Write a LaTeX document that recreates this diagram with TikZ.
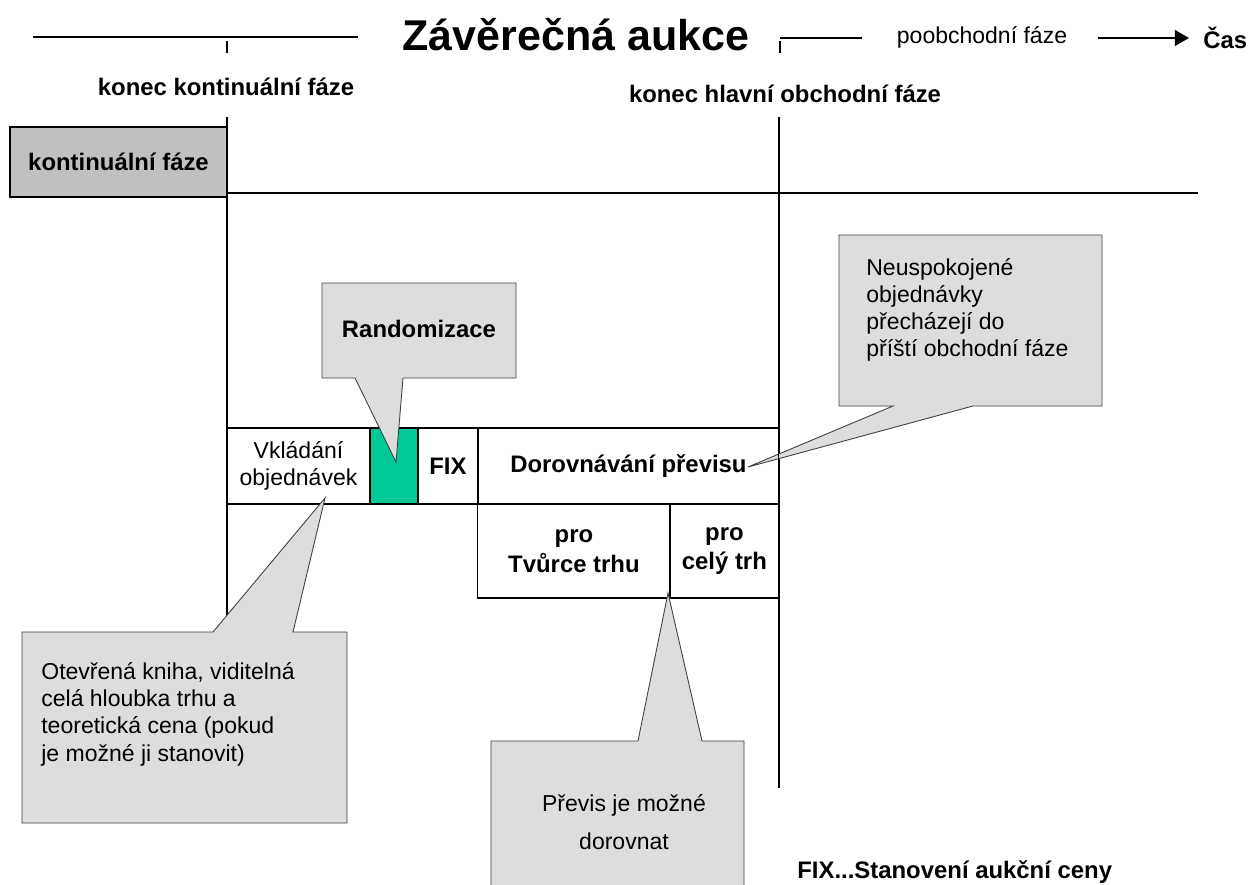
\documentclass[tikz,border=0pt]{standalone}
\usepackage{fontspec}
\setmainfont{Liberation Sans}
\usetikzlibrary{arrows.meta,positioning}
\definecolor{phasegray}{RGB}{192,192,192}
\definecolor{notegray}{RGB}{221,221,221}
\definecolor{randgreen}{RGB}{0,200,150}
\newcommand{\regtext}{\fontsize{13.1}{15.5}\selectfont}
\newcommand{\boldtext}{\fontsize{13.6}{17}\selectfont\bfseries}
\tikzset{
  cell/.style={rectangle, draw=black, line width=0.6pt, inner sep=0pt, outer sep=0pt, align=center, font=\boldtext, minimum height=1.52cm},
  lowcell/.style={cell, minimum height=1.88cm},
  bubble/.style={draw=black!75, fill=notegray, line width=0.5pt},
  note/.style={inner sep=0pt, align=left, font=\regtext},
  heading/.style={inner sep=0pt, font=\boldtext},
  axis/.style={line width=0.6pt},
  edge/.style={line width=1.3pt}
}

\begin{document}
\begin{tikzpicture}[x=0.02cm, y=-0.02cm]
    \useasboundingbox (0,0) rectangle (1254,885);
    \clip (0,0) rectangle (1254,885);

    % time axis
    \node[font=\fontsize{24.5}{28}\selectfont\bfseries, inner sep=0pt] (title) at (576,35) {Závěrečná aukce};
    \node[note] (post) at (982,37) {poobchodní fáze};
    \node[heading, anchor=west] (cas) at (1203,38) {Čas};
    \coordinate (ax0) at (33,37);
    \coordinate (ax1) at (358,37);
    \coordinate (ax2) at (780,38);
    \coordinate (ax3) at (862,38);
    \coordinate (ax4) at (1098,38);
    \coordinate (ax5) at (1189,38);
    \draw[axis] (ax0) -- (ax1);
    \draw[axis] (ax2) -- (ax3);
    \draw[axis, -{Triangle[length=8pt,width=9pt]}] (ax4) -- (ax5);
    \draw[axis] (227,41) -- (227,53);
    \draw[axis] (780,41) -- (780,53);

    % phase boundaries
    \node[heading] (endcont) at (226,87) {konec kontinuální fáze};
    \node[heading] (endmain) at (785,94) {konec hlavní obchodní fáze};
    \node[heading, draw=black, line width=0.6pt, fill=phasegray, minimum width=4.34cm, minimum height=1.4cm] (cont) at (118.5,162) {kontinuální fáze};
    \draw[line width=0.7pt] (227,117) -- (227,640);
    \draw[line width=0.7pt] (779,117) -- (779,788);
    \draw[axis] (227,193) -- (1198,193);

    % note on unmatched orders
    \coordinate (unmettip) at (748,467);
    \draw[bubble] (839,235) -- (1102,235) -- (1102,406) -- (973,406) -- (unmettip) -- (893,406) -- (839,406) -- cycle;
    \node[note, anchor=north west] (unmet) at (866,258) {Neuspokojené\\objednávky\\přecházejí do\\příští obchodní fáze};

    % auction steps
    \node[cell, font=\regtext, minimum width=2.86cm] (vklad) at (298.5,466) {Vkládání\\objednávek};
    \node[cell, fill=randgreen, line width=1.3pt, minimum width=0.96cm, right=0pt of vklad] (rand) {};
    \node[cell, minimum width=1.2cm, right=0pt of rand] (fix) {FIX};
    \node[cell, minimum width=6.02cm, right=0pt of fix] (dorov) {Dorovnávání převisu};
    \node[lowcell, minimum width=3.84cm, anchor=north west] (tvurce) at (dorov.south west) {pro\\Tvůrce trhu};
    \node[lowcell, minimum width=2.18cm, right=0pt of tvurce] (cely) {pro\\celý trh};
    \draw[edge] (fix.north east) -- (fix.south east);
    \draw[edge] (tvurce.north east) -- (tvurce.south east);

    % remaining notes
    \coordinate (randtip) at (396,462);
    \draw[bubble] (322,283) -- (516,283) -- (516,378) -- (403,378) -- (randtip) -- (355,378) -- (322,378) -- cycle;
    \node[heading] (randtxt) at (419,329) {Randomizace};

    \coordinate (booktip) at (325,498);
    \draw[bubble] (22,632) -- (213,632) -- (booktip) -- (293,632) -- (347,632) -- (347,823) -- (22,823) -- cycle;
    \node[note, anchor=north west] (book) at (41,662) {Otevřená kniha, viditelná\\celá hloubka trhu a\\teoretická cena (pokud\\je možné ji stanovit)};

    \coordinate (excesstip) at (668,593);
    \draw[bubble] (491,741) -- (638,741) -- (excesstip) -- (702,741) -- (744,741) -- (744,900) -- (491,900) -- cycle;
    \node[note, align=center, font=\fontsize{13.1}{21.5}\selectfont] (excess) at (624,822) {Převis je možné\\dorovnat};

    \node[heading, anchor=west] (fixnote) at (797,872) {FIX...Stanovení aukční ceny};
\end{tikzpicture}
\end{document}
